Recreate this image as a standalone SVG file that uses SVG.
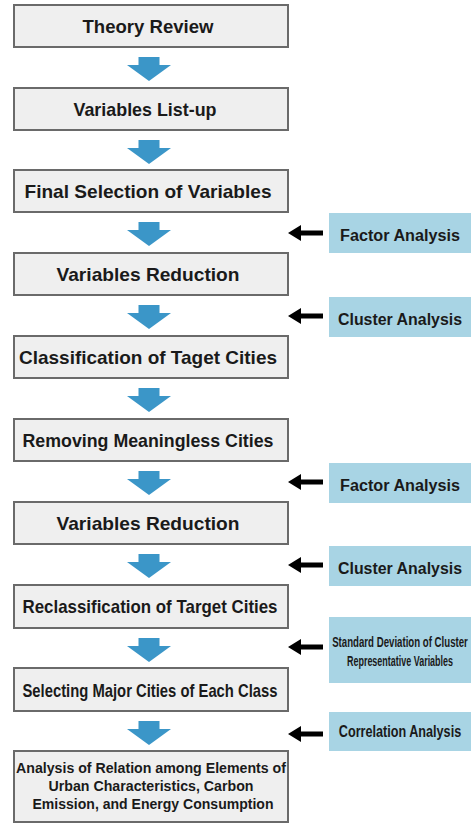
<svg xmlns="http://www.w3.org/2000/svg" xmlns:xlink="http://www.w3.org/1999/xlink" width="475" height="824" viewBox="0 0 475 824">
<style>
.box{fill:#efefef;stroke:#6a6a6a;stroke-width:2}
.side{fill:#a8d4e4}
.t{font-family:"Liberation Sans",Arial,sans-serif;font-weight:bold;font-size:19px;fill:#1a1a1a;text-anchor:middle}
.s{font-family:"Liberation Sans",Arial,sans-serif;font-weight:bold;font-size:16px;fill:#1a1a1a;text-anchor:middle}
.b{font-family:"Liberation Sans",Arial,sans-serif;font-weight:bold;font-size:15.5px;fill:#1a1a1a;text-anchor:middle}
.sd{font-family:"Liberation Sans",Arial,sans-serif;font-weight:bold;font-size:14px;fill:#1a1a1a;text-anchor:middle}
.dn{fill:#3b96c8}
.lf{fill:#000}
</style>
<defs>
<path id="down" class="dn" d="M-10.5,0 H10.5 V8 H22 L0,24 L-22,8 H-10.5 Z"/>
<path id="left" class="lf" d="M0,0 L13,-8 V-2.6 H35 V2.6 H13 V8 Z"/>
</defs>
<rect width="475" height="824" fill="#ffffff"/>
<g id="n1"><rect class="box" x="14" y="5" width="274" height="42"/><text class="t" x="148" y="33" textLength="131" lengthAdjust="spacingAndGlyphs">Theory Review</text></g>
<g id="n2"><rect class="box" x="14" y="88" width="274" height="42"/><text class="t" x="145" y="116" textLength="143" lengthAdjust="spacingAndGlyphs">Variables List-up</text></g>
<g id="n3"><rect class="box" x="14" y="170" width="274" height="42"/><text class="t" x="148" y="198" textLength="247" lengthAdjust="spacingAndGlyphs">Final Selection of Variables</text></g>
<g id="n4"><rect class="box" x="14" y="253" width="274" height="42"/><text class="t" x="148" y="281" textLength="183" lengthAdjust="spacingAndGlyphs">Variables Reduction</text></g>
<g id="n5"><rect class="box" x="14" y="336" width="274" height="42"/><text class="t" x="148" y="364" textLength="258" lengthAdjust="spacingAndGlyphs">Classification of Taget Cities</text></g>
<g id="n6"><rect class="box" x="14" y="419" width="274" height="42"/><text class="t" x="148" y="447" textLength="251" lengthAdjust="spacingAndGlyphs">Removing Meaningless Cities</text></g>
<g id="n7"><rect class="box" x="14" y="502" width="274" height="42"/><text class="t" x="148" y="530" textLength="183" lengthAdjust="spacingAndGlyphs">Variables Reduction</text></g>
<g id="n8"><rect class="box" x="14" y="585" width="274" height="43"/><text class="t" x="150" y="613" textLength="255" lengthAdjust="spacingAndGlyphs">Reclassification of Target Cities</text></g>
<g id="n9"><rect class="box" x="14" y="668" width="274" height="43"/><text class="t" x="150" y="697" textLength="255" lengthAdjust="spacingAndGlyphs">Selecting Major Cities of Each Class</text></g>
<g id="n10"><rect class="box" x="14" y="751" width="274" height="71"/>
<text class="b" x="151" y="773" textLength="270" lengthAdjust="spacingAndGlyphs">Analysis of Relation among Elements of</text>
<text class="b" x="151" y="791" textLength="205" lengthAdjust="spacingAndGlyphs">Urban Characteristics, Carbon</text>
<text class="b" x="153" y="809" textLength="241" lengthAdjust="spacingAndGlyphs">Emission, and Energy Consumption</text></g>
<g id="s1"><rect class="side" x="329" y="213" width="142" height="40"/><text class="s" x="400" y="241" textLength="120" lengthAdjust="spacingAndGlyphs">Factor Analysis</text></g>
<g id="s2"><rect class="side" x="329" y="297" width="142" height="40"/><text class="s" x="400" y="325" textLength="124" lengthAdjust="spacingAndGlyphs">Cluster Analysis</text></g>
<g id="s3"><rect class="side" x="329" y="463" width="142" height="40"/><text class="s" x="400" y="491" textLength="120" lengthAdjust="spacingAndGlyphs">Factor Analysis</text></g>
<g id="s4"><rect class="side" x="329" y="546" width="142" height="40"/><text class="s" x="400" y="574" textLength="124" lengthAdjust="spacingAndGlyphs">Cluster Analysis</text></g>
<g id="s5"><rect class="side" x="329" y="617" width="142" height="66"/>
<text class="sd" transform="translate(400,647) scale(0.69,1)">Standard Deviation of Cluster</text>
<text class="sd" transform="translate(400,666) scale(0.64,1)">Representative Variables</text></g>
<g id="s6"><rect class="side" x="329" y="712" width="142" height="39"/><text class="s" transform="translate(400,737) scale(0.79,1)">Correlation Analysis</text></g>
<g id="connectors">
<use xlink:href="#down" x="149" y="57"/>
<use xlink:href="#down" x="149" y="140"/>
<use xlink:href="#down" x="149" y="222"/>
<use xlink:href="#down" x="149" y="305"/>
<use xlink:href="#down" x="149" y="388"/>
<use xlink:href="#down" x="149" y="471"/>
<use xlink:href="#down" x="149" y="554"/>
<use xlink:href="#down" x="149" y="638"/>
<use xlink:href="#down" x="149" y="721"/>
<use xlink:href="#left" x="288" y="233"/>
<use xlink:href="#left" x="288" y="316"/>
<use xlink:href="#left" x="288" y="482"/>
<use xlink:href="#left" x="288" y="565"/>
<use xlink:href="#left" x="288" y="647"/>
<use xlink:href="#left" x="288" y="734"/>
</g>
</svg>
